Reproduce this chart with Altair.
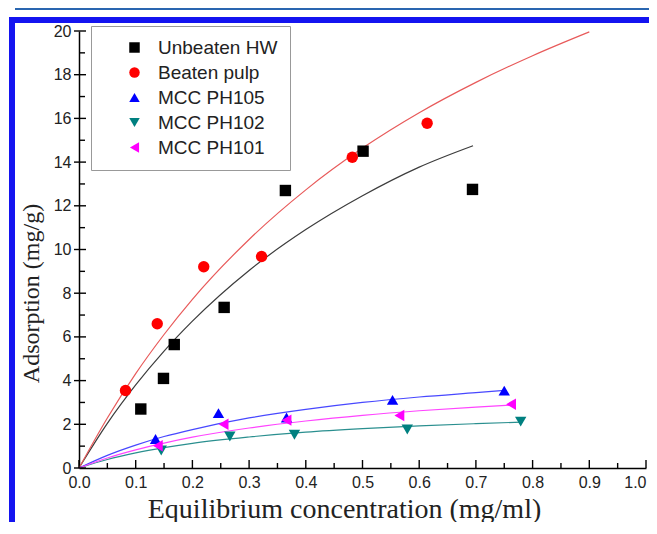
import altair as alt
import pandas as pd

# ---------------- data ----------------
series_names = ["\u00a0Unbeaten HW", "Beaten pulp", "MCC PH105", "MCC PH102", "MCC PH101"]
point_colors = ["#000000", "#ff0000", "#0000ff", "#008080", "#ff00ff"]
line_colors = ["#3c3c3c", "#e85a5a", "#4848ff", "#2a8f8f", "#ff44ff"]
shapes = ["square", "circle", "triangle-up", "triangle-down", "triangle-left"]

hw_x = [0.109, 0.149, 0.168, 0.256, 0.364, 0.501, 0.694]
hw_y = [2.70, 4.10, 5.65, 7.35, 12.70, 14.50, 12.75]
bp_x = [0.082, 0.138, 0.220, 0.322, 0.482, 0.614]
bp_y = [3.55, 6.60, 9.21, 9.68, 14.22, 15.78]
p105_x = [0.135, 0.246, 0.366, 0.553, 0.750]
p105_y = [1.33, 2.51, 2.31, 3.12, 3.54]
p102_x = [0.145, 0.266, 0.380, 0.579, 0.779]
p102_y = [0.80, 1.44, 1.52, 1.76, 2.12]
p101_x = [0.139, 0.255, 0.366, 0.565, 0.762]
p101_y = [1.02, 2.00, 2.19, 2.40, 2.92]

# fitted curves
fit_hw_x = [0, 0.05, 0.1, 0.15, 0.2, 0.3, 0.4, 0.5, 0.6, 0.695]
fit_hw_y = [0, 2.04, 3.80, 5.35, 6.72, 9.04, 10.91, 12.46, 13.77, 14.75]
fit_bp_x = [0, 0.05, 0.1, 0.15, 0.2, 0.3, 0.4, 0.5, 0.6, 0.7, 0.8, 0.9]
fit_bp_y = [0, 2.29, 4.32, 6.11, 7.72, 10.46, 12.73, 14.64, 16.26, 17.65, 18.87, 19.96]
fit_105_x = [0, 0.05, 0.1, 0.15, 0.2, 0.3, 0.4, 0.5, 0.6, 0.7, 0.75]
fit_105_y = [0, 0.58, 1.05, 1.44, 1.76, 2.29, 2.68, 3.00, 3.25, 3.45, 3.55]
fit_102_x = [0, 0.05, 0.1, 0.15, 0.2, 0.3, 0.4, 0.5, 0.6, 0.7, 0.78]
fit_102_y = [0, 0.39, 0.69, 0.93, 1.13, 1.42, 1.64, 1.80, 1.93, 2.03, 2.10]
fit_101_x = [0, 0.05, 0.1, 0.15, 0.2, 0.3, 0.4, 0.5, 0.6, 0.7, 0.77]
fit_101_y = [0, 0.46, 0.83, 1.14, 1.41, 1.83, 2.15, 2.41, 2.62, 2.79, 2.89]

x_major = [0.0, 0.1, 0.2, 0.3, 0.4, 0.5, 0.6, 0.7, 0.8, 0.9, 1.0]
x_minor = [0.05, 0.15, 0.25, 0.35, 0.45, 0.55, 0.65, 0.75, 0.85, 0.95]
y_major = [0, 2, 4, 6, 8, 10, 12, 14, 16, 18, 20]
y_minor = [1, 3, 5, 7, 9, 11, 13, 15, 17, 19]

x_title = "Equilibrium concentration (mg/ml)"
y_title = "Adsorption (mg/g)"

# ---------------- tables ----------------
pts = []
for name, xs, ys in zip(series_names, [hw_x, bp_x, p105_x, p102_x, p101_x],
                        [hw_y, bp_y, p105_y, p102_y, p101_y]):
    for a, b in zip(xs, ys):
        pts.append({"series": name, "x": a, "y": b})
pts = pd.DataFrame(pts)

fits = []
for name, lc, xs, ys in zip(series_names, line_colors,
                            [fit_hw_x, fit_bp_x, fit_105_x, fit_102_x, fit_101_x],
                            [fit_hw_y, fit_bp_y, fit_105_y, fit_102_y, fit_101_y]):
    for a, b in zip(xs, ys):
        fits.append({"curve": name, "lc": lc, "x": a, "y": b})
fits = pd.DataFrame(fits)

W, H = 567, 437

xscale = alt.Scale(domain=[0, 1], nice=False, zero=False)
yscale = alt.Scale(domain=[0, 20], nice=False, zero=False)

x_axis = alt.Axis(values=x_major, format=".1f", ticks=False, grid=False,
                  domainColor="#000", domainWidth=1.5,
                  labelFont="Liberation Sans", labelFontSize=16, labelColor="#222",
                  labelPadding=6, labelFlush=False,
                  labelAlign=alt.ExprRef(expr="datum.value >= 1 ? 'right' : 'center'"),
                  title=x_title, titleFont="Liberation Serif", titleFontSize=28,
                  titleFontWeight="normal", titleColor="#222",
                  titleX=265, titleY=49, titleAlign="center", titleBaseline="alphabetic")
y_axis = alt.Axis(values=y_major, format="d", ticks=False, grid=False,
                  domainColor="#000", domainWidth=1.5,
                  labelFont="Liberation Sans", labelFontSize=16, labelColor="#222",
                  labelPadding=8,
                  title=y_title, titleFont="Liberation Serif", titleFontSize=24,
                  titleFontWeight="normal", titleColor="#222",
                  titleX=-48, titleY=262, titleAlign="center", titleBaseline="middle")

lines = alt.Chart(fits).mark_line(strokeWidth=1.2, interpolate="monotone").encode(
    x=alt.X("x:Q", scale=xscale, axis=x_axis),
    y=alt.Y("y:Q", scale=yscale, axis=y_axis),
    stroke=alt.Stroke("lc:N", scale=None),
    detail="curve:N",
)

points = alt.Chart(pts).mark_point(filled=True, size=130, opacity=1).encode(
    x=alt.X("x:Q", scale=xscale),
    y=alt.Y("y:Q", scale=yscale),
    color=alt.Color("series:N", scale=alt.Scale(domain=series_names, range=point_colors),
                    legend=alt.Legend(title=None, orient="none", legendX=12, legendY=-5,
                                      labelFont="Liberation Sans", labelFontSize=19,
                                      labelColor="#222", symbolSize=110, symbolStrokeWidth=0,
                                      padding=12, symbolOffset=22, labelOffset=14,
                                      rowPadding=5, strokeColor="#999", fillColor="#fff",
                                      cornerRadius=0)),
    shape=alt.Shape("series:N", scale=alt.Scale(domain=series_names, range=shapes)),
)

xmaj = alt.Chart(pd.DataFrame({"v": x_major})).mark_rule(color="#000", strokeWidth=1.4).encode(
    x=alt.X("v:Q", scale=xscale), y=alt.value(H), y2=alt.value(H - 8))
xmin = alt.Chart(pd.DataFrame({"v": x_minor})).mark_rule(color="#000", strokeWidth=1.4).encode(
    x=alt.X("v:Q", scale=xscale), y=alt.value(H), y2=alt.value(H - 5))
ymaj = alt.Chart(pd.DataFrame({"v": y_major})).mark_rule(color="#000", strokeWidth=1.4).encode(
    y=alt.Y("v:Q", scale=yscale), x=alt.value(-5), x2=alt.value(7))
ymin = alt.Chart(pd.DataFrame({"v": y_minor})).mark_rule(color="#000", strokeWidth=1.4).encode(
    y=alt.Y("v:Q", scale=yscale), x=alt.value(0), x2=alt.value(6))

one = pd.DataFrame({"k": [0]})
left_bar = alt.Chart(one).mark_rect(color="#1414f0").encode(
    x=alt.value(-70), x2=alt.value(-64), y=alt.value(-14), y2=alt.value(500))
top_bar = alt.Chart(one).mark_rect(color="#1414f0").encode(
    x=alt.value(-70), x2=alt.value(600), y=alt.value(-14), y2=alt.value(-8))
thin_line = alt.Chart(one).mark_rect(color="#2a66b0").encode(
    x=alt.value(-64), x2=alt.value(600), y=alt.value(-23), y2=alt.value(-21))

chart = alt.layer(left_bar, top_bar, thin_line, lines, points, xmaj, xmin, ymaj, ymin).properties(
    width=W, height=H,
    autosize=alt.AutoSizeParams(type="none"),
    padding={"left": 71, "top": 23, "right": 3, "bottom": 54},
    background="#ffffff",
).configure_view(stroke=None)

chart.save("out.html", embed_options={"renderer": "svg", "actions": False})
